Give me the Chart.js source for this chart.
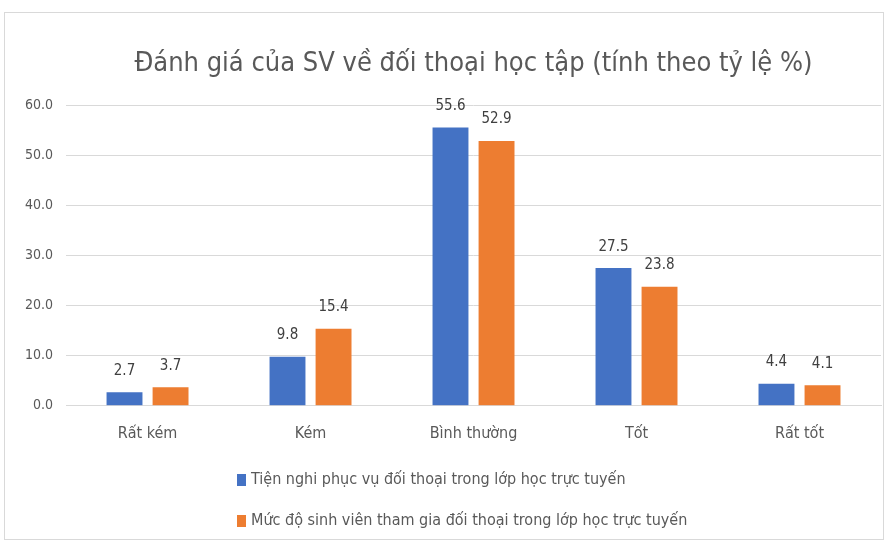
<!DOCTYPE html>
<html>
<head>
<meta charset="utf-8">
<script src="https://cdn.jsdelivr.net/npm/chart.js@4.4.1/dist/chart.umd.min.js"></script>
<style>
  body { margin: 0; background: #fff; }
  #wrap { position: relative; width: 886px; height: 543px; }
  #frame { position: absolute; left: 4px; top: 12px; width: 880px; height: 528px; border: 1px solid #d9d9d9; box-sizing: border-box; }
  canvas { position: absolute; left: 0; top: 0; }
</style>
</head>
<body>
<div id="wrap">
  <div id="frame"></div>
  <canvas id="mycanvas" width="886" height="543"></canvas>
</div>
<script>
var titleText = 'Đánh giá của SV về đối thoại học tập (tính theo tỷ lệ %)';
var categories = ['Rất kém', 'Kém', 'Bình thường', 'Tốt', 'Rất tốt'];
var seriesNames = [
  'Tiện nghi phục vụ đối thoại trong lớp học trực tuyến',
  'Mức độ sinh viên tham gia đối thoại trong lớp học trực tuyến'
];
var tienNghi = [2.7, 9.8, 55.6, 27.5, 4.4];
var mucDo = [3.7, 15.4, 52.9, 23.8, 4.1];
var yTicks = [0, 10, 20, 30, 40, 50, 60];

var fontFam = "'Liberation Sans Narrow', 'DejaVu Sans Condensed', sans-serif";
var grey = '#595959';

// value labels above bars
var barLabels = {
  id: 'barLabels',
  afterDatasetsDraw: function(chart) {
    var ctx = chart.ctx;
    ctx.save();
    ctx.font = '15px ' + fontFam;
    ctx.fillStyle = '#404040';
    ctx.textAlign = 'center';
    ctx.textBaseline = 'bottom';
    chart.data.datasets.forEach(function(ds, i) {
      var meta = chart.getDatasetMeta(i);
      meta.data.forEach(function(bar, j) {
        ctx.fillText(ds.data[j].toFixed(1), bar.x, bar.y - 14);
      });
    });
    ctx.restore();
  }
};

// legend stacked vertically under the axis
var stackLegend = {
  id: 'stackLegend',
  afterDraw: function(chart) {
    var ctx = chart.ctx;
    ctx.save();
    ctx.font = '16px ' + fontFam;
    ctx.textBaseline = 'middle';
    var rows = [480, 521];
    chart.data.datasets.forEach(function(ds, i) {
      ctx.fillStyle = ds.backgroundColor;
      ctx.fillRect(237, rows[i] - 6, 9, 12);
      ctx.fillStyle = grey;
      ctx.fillText(ds.label, 251, rows[i]);
    });
    ctx.restore();
  }
};

var chartdata = {
  labels: categories,
  datasets: [
    { label: seriesNames[0], backgroundColor: '#4472C4', data: tienNghi },
    { label: seriesNames[1], backgroundColor: '#ED7D31', data: mucDo }
  ]
};

var ctx = document.getElementById('mycanvas');
var barGraph = new Chart(ctx, {
  type: 'bar',
  data: chartdata,
  options: {
    responsive: false,
    animation: false,
    categoryPercentage: 0.565,
    barPercentage: 0.78,
    layout: { padding: { left: 12, right: 5, top: 48, bottom: 90 } },
    plugins: {
      legend: { display: false },
      tooltip: { enabled: false },
      title: {
        display: true,
        text: titleText,
        fullSize: false,
        color: grey,
        font: { family: fontFam, size: 27, weight: 'normal' },
        padding: { top: 0, bottom: 25 }
      }
    },
    scales: {
      x: {
        grid: { display: false },
        border: { color: '#d9d9d9' },
        ticks: { color: grey, font: { family: fontFam, size: 16 }, padding: 10 }
      },
      y: {
        min: 0,
        max: 60,
        afterBuildTicks: function(axis) {
          axis.ticks = yTicks.map(function(v) { return { value: v }; });
        },
        grid: { color: '#d9d9d9', drawTicks: false },
        border: { display: false },
        ticks: {
          color: grey,
          font: { family: fontFam, size: 14 },
          padding: 13,
          callback: function(v) { return v.toFixed(1); }
        }
      }
    }
  },
  plugins: [barLabels, stackLegend]
});
</script>
</body>
</html>
